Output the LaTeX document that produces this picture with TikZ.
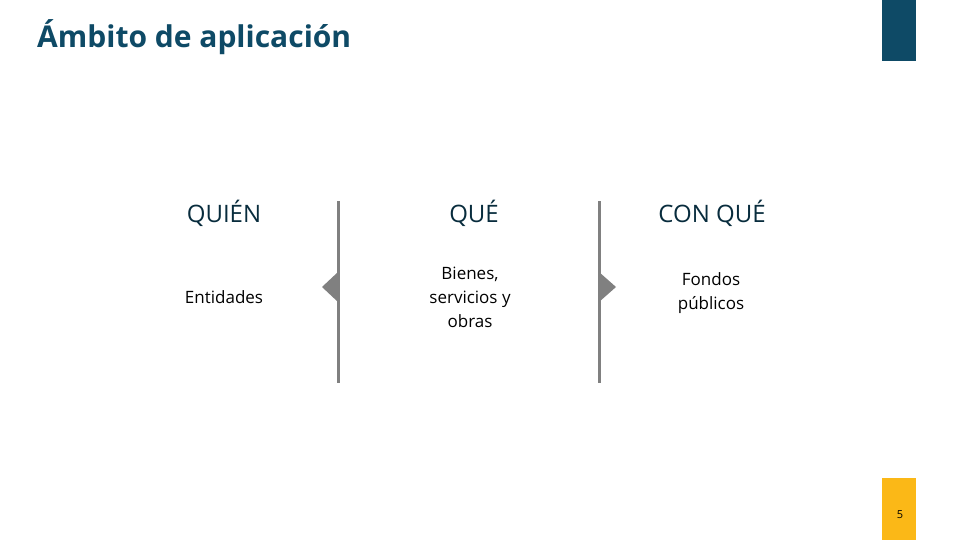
\documentclass[tikz,border=0pt]{standalone}
\usepackage{fontspec}
\setmainfont{Open Sans}
\definecolor{teal}{HTML}{0E4A66}
\definecolor{gold}{HTML}{FBB817}
\definecolor{gline}{HTML}{808080}
\begin{document}
\begin{tikzpicture}[x=1pt,y=-1pt,
 head/.style={text=teal!60!black,font=\fontsize{24}{28}\selectfont},
 body/.style={font=\fontsize{17}{24}\selectfont,align=center},
 sep/.style={draw=gline,line width=3pt}]
\useasboundingbox (0,0) rectangle (960,540);
\fill[white] (0,0) rectangle (960,540);
\node[anchor=west,inner sep=0pt,text=teal,font=\bfseries\fontsize{30}{36}\selectfont] (title) at (37,37) {Ámbito de aplicación};
\fill[teal] (882,0) rectangle (916,61);
\fill[gold] (882,478) rectangle (916,540);
\node[font=\fontsize{11}{14}\selectfont] (pg) at (900,515) {5};
\node[head] (h1) at (224,213) {QUIÉN};
\node[head] (h2) at (474,213) {QUÉ};
\node[head] (h3) at (712,213) {CON QUÉ};
\node[body] (b1) at (224,297) {Entidades};
\node[body] (b2) at (470,297) {Bienes,\\servicios y\\obras};
\node[body] (b3) at (711,293) {Fondos\\públicos};
\coordinate (l1t) at (338,201); \coordinate (l1b) at (338,383);
\coordinate (l2t) at (599,201); \coordinate (l2b) at (599,383);
\draw[sep] (l1t) -- (l1b);
\draw[sep] (l2t) -- (l2b);
\fill[gline] (338,272) -- (322,287) -- (338,302) -- cycle;
\fill[gline] (599,272) -- (616,287) -- (599,302) -- cycle;
\end{tikzpicture}
\end{document}
